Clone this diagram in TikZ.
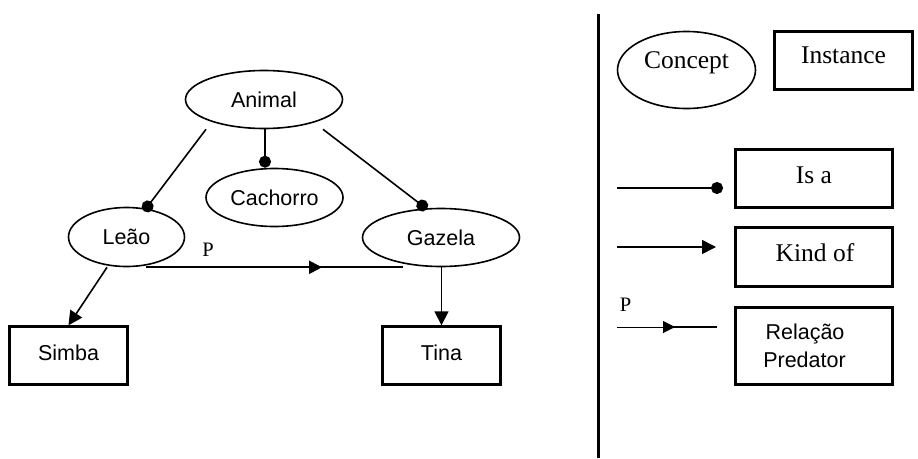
\documentclass[tikz,border=0pt]{standalone}
\usepackage{fontspec}
\setmainfont{Liberation Serif}
\newfontfamily\arialf{Liberation Sans}
\usetikzlibrary{arrows.meta,shapes.geometric,decorations.markings}

\begin{document}
\begin{tikzpicture}[x=1pt,y=-1pt,
  sanslabel/.style={font=\arialf\fontsize{21.5}{26}\selectfont},
  seriflabel/.style={font=\fontsize{25.5}{30}\selectfont, inner sep=0pt},
  plabel/.style={font=\fontsize{20.5}{24}\selectfont, inner sep=0pt},
  concept/.style={ellipse, draw, line width=1.6pt, inner sep=0pt, sanslabel},
  instance/.style={rectangle, draw, line width=2.4pt, inner sep=0pt, sanslabel,
                   text height=15pt, text depth=6pt},
  link/.style={line width=1.6pt},
  isa/.style={link, -{Circle[length=12pt]}},
  kindof/.style={link, -{Triangle[length=14pt,width=14pt]}},
  predator/.style={line width=2.2pt,
    postaction={decorate, decoration={markings,
      mark=at position 0.685 with {\arrow{Triangle[length=13pt,width=13pt]}}}}},
]
\path[use as bounding box] (0,0) rectangle (918,458);

% ---------- concept graph ----------
\node[concept, minimum width=157pt, minimum height=58pt] (animal)   at (264,99.5)  {Animal};
\node[concept, minimum width=137pt, minimum height=58pt] (cachorro) at (274.5,197.5) {Cachorro};
\node[concept, minimum width=116pt, minimum height=59pt] (leao)     at (126.5,237) {Leão};
\node[concept, minimum width=157pt, minimum height=58pt] (gazela)   at (441,237.5) {Gazela};

\node[instance, minimum width=118pt, minimum height=58pt] (simba) at (68.5,355.5)  {Simba};
\node[instance, minimum width=118pt, minimum height=58pt] (tina)  at (441.5,355.5) {Tina};

% is-a links
\draw[isa] ([xshift=-58pt]animal.south) -- ([xshift=17.5pt,yshift=-4.5pt]leao.north);
\draw[isa] ([xshift=1pt]animal.south)   -- ([xshift=-9.5pt]cachorro.north);
\draw[isa] ([xshift=59pt]animal.south)  -- ([xshift=-14pt,yshift=-1.5pt]gazela.north);

% kind-of links
\draw[kindof] ([xshift=-19.5pt]leao.south) -- (simba.north);
\draw[kindof] ([xshift=0.5pt]gazela.south) -- (tina.north);

% predator relation
\draw[predator] ([xshift=19.5pt]leao.south) -- ([xshift=-38pt]gazela.south);
\node[plabel, anchor=base] (prel) at (208,256) {P};

% ---------- divider ----------
\coordinate (divtop) at (598,14);
\coordinate (divbot) at (598,458);
\draw[line width=3pt] (divtop) -- (divbot);

% ---------- legend ----------
\node[ellipse, draw, line width=1.6pt, minimum width=138pt, minimum height=77pt] (lconcept) at (686.5,70) {};
\node[seriflabel, anchor=base] (tconcept) at (686.5,68) {Concept};

\node[rectangle, draw, line width=2.4pt, minimum width=138pt, minimum height=58pt] (linstance) at (843.5,60.5) {};
\node[seriflabel, anchor=base] (tinstance) at (843.5,63) {Instance};

\node[rectangle, draw, line width=2.4pt, minimum width=157pt, minimum height=58pt] (lisa) at (814,178.5) {};
\node[seriflabel, anchor=base] (tisa) at (814,183) {Is a};
\coordinate (isaA) at (617,188);
\coordinate (isaB) at (723,188);
\draw[isa] (isaA) -- (isaB);

\node[rectangle, draw, line width=2.4pt, minimum width=157pt, minimum height=59pt] (lkind) at (814,257) {};
\node[seriflabel, anchor=base] (tkind) at (815,261) {Kind of};
\coordinate (kindA) at (617,247);
\coordinate (kindB) at (716,247);
\draw[kindof] (kindA) -- (kindB);

\node[rectangle, draw, line width=2.4pt, minimum width=157pt, minimum height=77pt] (lpred) at (814,346) {};
\node[sanslabel, inner sep=0pt, anchor=base] (tpred1) at (805,339) {Relação};
\node[sanslabel, inner sep=0pt, anchor=base] (tpred2) at (804.5,367) {Predator};
\coordinate (predA) at (617,327);
\coordinate (predM) at (675,327);
\coordinate (predS) at (663,327);
\coordinate (predB) at (717,327);
\draw[line width=1pt, -{Triangle[length=12pt,width=12pt]}] (predA) -- (predM);
\draw[line width=2.2pt] (predS) -- (predB);
\node[plabel, anchor=base] (plegend) at (625.5,311.5) {P};
\end{tikzpicture}
\end{document}
